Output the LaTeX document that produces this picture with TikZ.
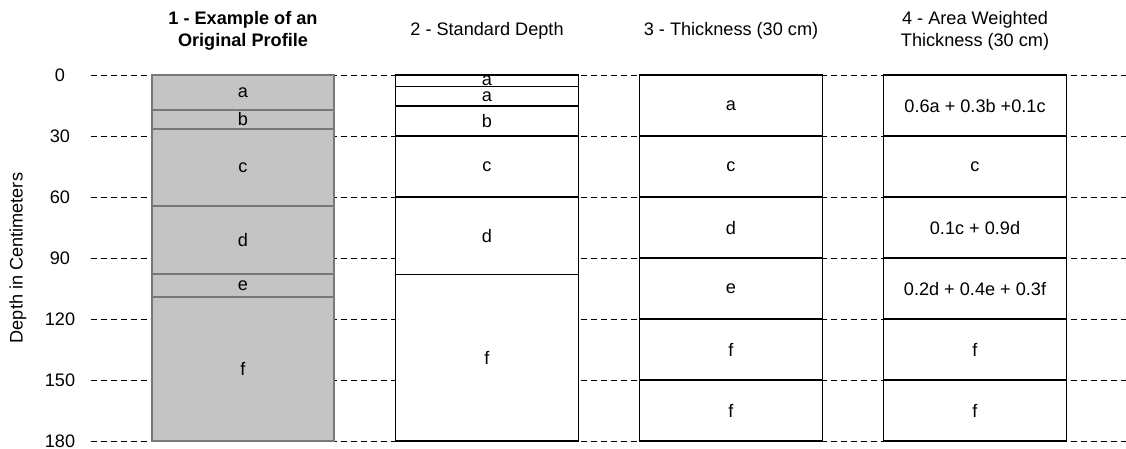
\documentclass[tikz,border=0pt]{standalone}
\usepackage{fontspec}
\setmainfont{Liberation Sans}
\definecolor{soilfill}{RGB}{196,196,196}
\definecolor{soiledge}{RGB}{120,120,120}
\begin{document}
\begin{tikzpicture}[
  x=0.75pt, y=-1.525pt,
  every node/.style={font=\fontsize{13.6}{16.5}\selectfont},
  layer/.style={draw, line width=1.1pt, fill=white, minimum width=137pt,
    anchor=north, inner sep=0pt, outer sep=0pt},
  orig/.style={layer, draw=soiledge, fill=soilfill, line width=1.4pt},
  guide/.style={dash pattern=on 4.5pt off 3pt, line width=0.7pt}
]
\useasboundingbox (0,-36.9) rectangle (1126,183.5);

% depth axis and guide lines
\foreach \d in {0,30,...,180} {
  \node (tick\d) at (60,\d) {\d};
  \draw[guide] (90.7,\d) -- (1126,\d);
}
\node[rotate=90] (ylab) at (18,90) {Depth in Centimeters};

% titles
\node[align=center, font=\fontsize{13.6}{16.5}\selectfont\bfseries] (t1) at (243,-21.6)
  {1 - Example of an\\Original Profile};
\node (t2) at (487,-21.6) {2 - Standard Depth};
\node (t3) at (731,-21.6) {3 - Thickness (30 cm)};
\node[align=center] (t4) at (975,-21.6) {4 - Area Weighted\\Thickness (30 cm)};

% 1: original horizons
\foreach \top/\bot/\txt [count=\i] in {0/17/a, 17/26.4/b, 26.4/64.3/c,
    64.3/97.7/d, 97.7/109.2/e, 109.2/180/f}
  \node[orig, minimum height={(\bot-\top)*1.525pt}] (o\i) at (243,\top) {\txt};

% 2: standard depths
\foreach \top/\bot/\txt [count=\i] in {0/5.7/a, 5.7/15.2/a, 15.2/30/b,
    30/60/c, 60/98/d, 98/180/f}
  \node[layer, minimum height={(\bot-\top)*1.525pt}] (s\i) at (487,\top) {\txt};

% 3: 30 cm thickness
\foreach \txt [count=\i] in {a, c, d, e, f, f}
  \node[layer, minimum height=45.75pt] (k\i) at (731,{(\i-1)*30}) {\txt};

% 4: area weighted
\foreach \txt [count=\i] in {0.6a + 0.3b +0.1c, c, 0.1c + 0.9d,
    0.2d + 0.4e + 0.3f, f, f}
  \node[layer, minimum height=45.75pt] (w\i) at (975,{(\i-1)*30}) {\txt};
\end{tikzpicture}
\end{document}
